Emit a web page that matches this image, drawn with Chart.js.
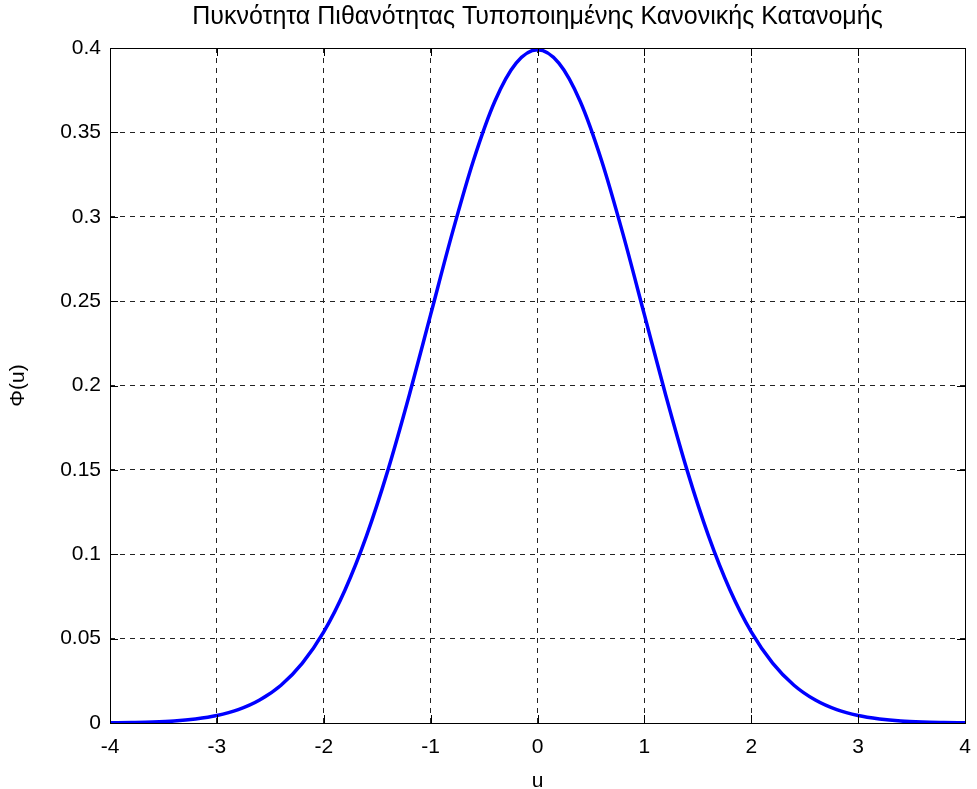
<!DOCTYPE html>
<html>
<head>
<meta charset="utf-8">
<script src="https://cdn.jsdelivr.net/npm/chart.js@4/dist/chart.umd.min.js"></script>
<style>
  html, body { margin: 0; padding: 0; background: #fff; }
  #wrap { width: 977px; height: 789px; }
</style>
</head>
<body>
<div id="wrap"><canvas id="grafico"></canvas></div>
<script>
// Dados
const uValues = [-4, -3.8, -3.6, -3.4, -3.2, -3, -2.8, -2.6, -2.4, -2.2, -2, -1.8, -1.6, -1.4, -1.2, -1, -0.8, -0.6, -0.4, -0.2,
  0, 0.2, 0.4, 0.6, 0.8, 1, 1.2, 1.4, 1.6, 1.8, 2, 2.2, 2.4, 2.6, 2.8, 3, 3.2, 3.4, 3.6, 3.8, 4];
const phiValues = [0.0001, 0.0003, 0.0006, 0.0012, 0.0024, 0.0044, 0.0079, 0.0136, 0.0224, 0.0355, 0.054, 0.079, 0.1109, 0.1497, 0.1942, 0.242, 0.2897, 0.3332, 0.3683, 0.391,
  0.3989, 0.391, 0.3683, 0.3332, 0.2897, 0.242, 0.1942, 0.1497, 0.1109, 0.079, 0.054, 0.0355, 0.0224, 0.0136, 0.0079, 0.0044, 0.0024, 0.0012, 0.0006, 0.0003, 0.0001];
const xTicks = [-4, -3, -2, -1, 0, 1, 2, 3, 4];
const yTicks = [0, 0.05, 0.1, 0.15, 0.2, 0.25, 0.3, 0.35, 0.4];

const fonte = 'Liberation Sans, Arial, Helvetica, sans-serif';

// Moldura e marcas internas (estilo MATLAB)
const moldura = {
  id: 'moldura',
  afterDraw(chart){
    const {ctx, chartArea:a, scales:{x, y}} = chart;
    const tl = 8;
    ctx.save();
    ctx.strokeStyle = '#000';
    ctx.lineWidth = 1;
    ctx.setLineDash([]);
    ctx.beginPath();
    xTicks.forEach(v=>{
      const px = Math.round(x.getPixelForValue(v)) + 0.5;
      ctx.moveTo(px, a.bottom); ctx.lineTo(px, a.bottom - tl);
      ctx.moveTo(px, a.top); ctx.lineTo(px, a.top + tl);
    });
    yTicks.forEach(v=>{
      const py = Math.round(y.getPixelForValue(v)) + 0.5;
      ctx.moveTo(a.left, py); ctx.lineTo(a.left + tl, py);
      ctx.moveTo(a.right, py); ctx.lineTo(a.right - tl, py);
    });
    ctx.stroke();
    ctx.strokeRect(Math.round(a.left) + 0.5, Math.round(a.top) + 0.5, Math.round(a.right - a.left), Math.round(a.bottom - a.top));
    ctx.restore();
  }
};

const ctx = document.getElementById('grafico').getContext('2d');
new Chart(ctx, {
  type: 'line',
  data: {
    datasets: [{
      label: 'Φ(u)',
      data: uValues.map((u, i)=>({x: u, y: phiValues[i]})),
      borderColor: '#0000ff',
      borderWidth: 3.5,
      pointRadius: 0,
      fill: false,
      cubicInterpolationMode: 'monotone'
    }]
  },
  options: {
    responsive: true,
    maintainAspectRatio: false,
    animation: false,
    layout: { padding: 0 },
    plugins: {
      legend: { display: false },
      tooltip: { enabled: false },
      title: {
        display: true,
        fullSize: false,
        text: 'Πυκνότητα Πιθανότητας Τυποποιημένης Κανονικής Κατανομής',
        color: '#000',
        font: { family: fonte, size: 25, weight: 'normal' },
        padding: { top: 2.5, bottom: 15.5 }
      }
    },
    scales: {
      x: {
        type: 'linear',
        min: -4, max: 4,
        afterBuildTicks: s=>{ s.ticks = xTicks.map(v=>({value: v})); },
        afterFit: s=>{ s.height = 66; s.paddingLeft = 0; s.paddingRight = 12; },
        ticks: { color: '#000', font: { family: fonte, size: 21 }, padding: 12, maxRotation: 0,
          callback: v=>String(v) },
        grid: { color: '#222', lineWidth: 1, drawTicks: false },
        border: { display: false, dash: [5, 5] },
        title: { display: true, text: 'u', color: '#000', font: { family: fonte, size: 21 }, padding: { top: 0, bottom: -5 } }
      },
      y: {
        min: 0, max: 0.4,
        afterBuildTicks: s=>{ s.ticks = yTicks.map(v=>({value: v})); },
        afterFit: s=>{ s.width = 110; },
        ticks: { color: '#000', font: { family: fonte, size: 21 }, padding: 9,
          callback: v=>String(+v.toFixed(2)) },
        grid: { color: '#222', lineWidth: 1, drawTicks: false },
        border: { display: false, dash: [5, 5] },
        title: { display: true, text: 'Φ(u)', color: '#000', font: { family: fonte, size: 21 }, padding: { top: 6, bottom: 0 } }
      }
    }
  },
  plugins: [moldura]
});
</script>
</body>
</html>
